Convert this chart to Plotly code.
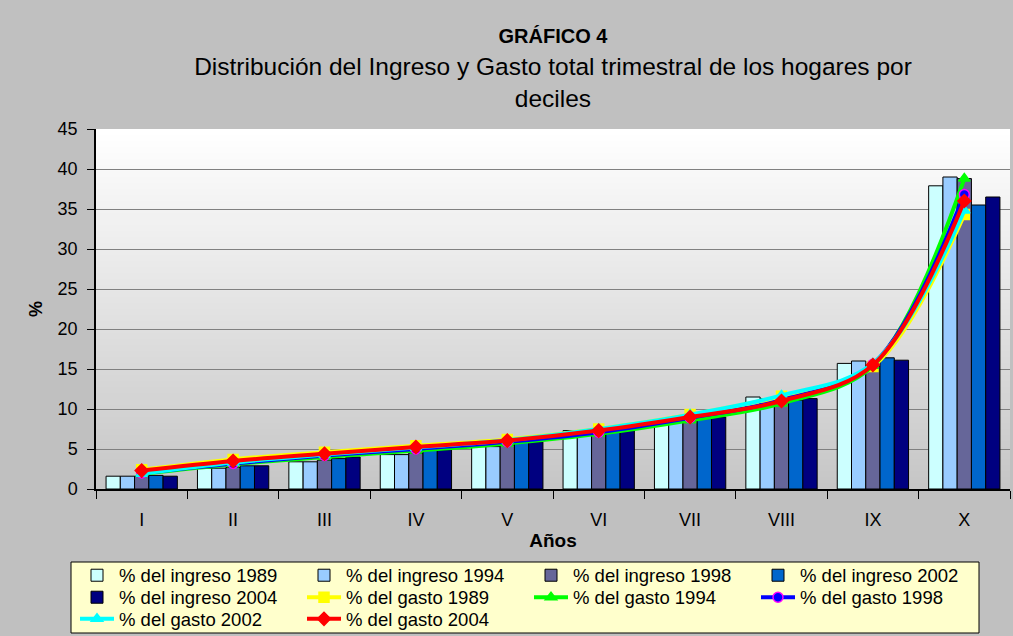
import plotly.graph_objects as go

deciles = ["I", "II", "III", "IV", "V", "VI", "VII", "VIII", "IX", "X"]

ingreso_1989 = [1.6, 2.6, 3.4, 4.3, 5.3, 7.3, 8.6, 11.5, 15.7, 37.9]
ingreso_1994 = [1.6, 2.6, 3.4, 4.3, 5.3, 7.2, 8.7, 11.3, 16.0, 39.0]
ingreso_1998 = [1.6, 2.7, 3.6, 4.5, 5.5, 7.0, 8.6, 11.0, 15.4, 38.8]
ingreso_2002 = [1.7, 2.9, 3.8, 4.9, 5.9, 7.3, 8.8, 11.1, 16.4, 35.5]
ingreso_2004 = [1.6, 2.9, 4.0, 4.9, 5.9, 7.3, 9.0, 11.3, 16.1, 36.5]

gasto_1989 = [2.4, 3.7, 4.6, 5.4, 6.2, 7.5, 9.3, 11.6, 15.3, 34.3]
gasto_1994 = [1.9, 3.1, 4.0, 4.8, 5.7, 6.9, 8.6, 10.7, 15.4, 38.8]
gasto_1998 = [2.0, 3.2, 4.2, 5.0, 5.9, 7.1, 8.9, 11.1, 15.6, 36.8]
gasto_2002 = [1.9, 3.3, 4.3, 5.2, 6.1, 7.5, 9.3, 11.7, 15.7, 34.8]
gasto_2004 = [2.3, 3.5, 4.4, 5.25, 6.05, 7.3, 9.0, 11.0, 15.5, 36.0]

y_ticks = [0, 5, 10, 15, 20, 25, 30, 35, 40, 45]

FONT = "Liberation Sans, Arial, sans-serif"

# plot area in pixels
L, R, T, B = 96, 3, 129, 147
W, H = 1013, 636
PW, PH = W - L - R, H - T - B


def px_x(x):
    return (x - L) / PW


def px_y(y):
    return (H - B - y) / PH


fig = go.Figure()

bar_series = [
    ("% del ingreso 1989", ingreso_1989, "#CCFFFF", "legend"),
    ("% del ingreso 1994", ingreso_1994, "#99CCFF", "legend"),
    ("% del ingreso 1998", ingreso_1998, "#666699", "legend"),
    ("% del ingreso 2002", ingreso_2002, "#0066CC", "legend"),
    ("% del ingreso 2004", ingreso_2004, "#000080", "legend2"),
]
for name, vals, col, lg in bar_series:
    fig.add_trace(go.Bar(
        x=deciles, y=vals, name=name, legend=lg,
        marker=dict(color=col, line=dict(color="#000000", width=1)),
    ))

line_series = [
    ("% del gasto 1989", gasto_1989, "#FFFF00", "square", "#FFFF00", "legend2"),
    ("% del gasto 1994", gasto_1994, "#00FF00", "triangle-up", "#00FF00", "legend2"),
    ("% del gasto 1998", gasto_1998, "#0000FF", "circle", "#FF00FF", "legend2"),
    ("% del gasto 2002", gasto_2002, "#00FFFF", "triangle-up", "#00FFFF", "legend3"),
    ("% del gasto 2004", gasto_2004, "#FF0000", "diamond", "#FF0000", "legend3"),
]
for name, vals, col, sym, mline, lg in line_series:
    fig.add_trace(go.Scatter(
        x=deciles, y=vals, name=name, mode="lines+markers", legend=lg,
        line=dict(color=col, width=4, shape="spline", smoothing=1.0),
        marker=dict(symbol=sym, size=10, color=col, line=dict(color=mline, width=1.5)),
    ))

# vertical gradient background for the plot area
n_bands = 60
shapes = []
for i in range(n_bands):
    t = i / (n_bands - 1)
    v = int(round(255 - t * (255 - 198)))
    shapes.append(dict(
        type="rect", xref="x domain", yref="y domain",
        x0=0, x1=1, y0=1 - (i + 1) / n_bands, y1=1 - i / n_bands,
        fillcolor=f"rgb({v},{v},{v})", line=dict(width=0), layer="below",
    ))

# legend box
shapes.append(dict(
    type="rect", xref="paper", yref="paper",
    x0=px_x(71), x1=px_x(979), y0=px_y(633), y1=px_y(562),
    fillcolor="#FFFFCC", line=dict(color="#000000", width=1), layer="below",
))

legend_common = dict(
    orientation="h", xanchor="left", yanchor="middle",
    bgcolor="rgba(0,0,0,0)", borderwidth=0,
    entrywidth=178, entrywidthmode="pixels", traceorder="normal",
    font=dict(family=FONT, size=18.5, color="#000000"), itemwidth=34,
)
leg_x = px_x(75)

fig.update_layout(
    width=W, height=H,
    paper_bgcolor="#C0C0C0",
    plot_bgcolor="rgba(0,0,0,0)",
    margin=dict(l=L, r=R, t=T, b=B, autoexpand=False, pad=0),
    barmode="group", bargap=0.22, bargroupgap=0,
    font=dict(family=FONT, color="#000000", size=18),
    title=dict(
        text="<b><span style='font-size:20px'>GRÁFICO 4</span></b><br>Distribución del Ingreso y Gasto total trimestral de los hogares por<br>deciles",
        x=0.5, xanchor="center", xref="paper", y=0.932, yanchor="top",
        font=dict(family=FONT, size=24.5, color="#000000"),
    ),
    xaxis=dict(
        range=[-0.5, len(deciles) - 0.5],
        showline=True, linecolor="#000000", linewidth=1.5,
        ticks="outside", ticklen=8, tickcolor="#000000", tickson="boundaries",
        tickfont=dict(size=18), showgrid=False, ticklabelstandoff=14,
        title=dict(text="<b>Años</b>", font=dict(size=19), standoff=4),
    ),
    yaxis=dict(
        range=[0, 45], tickvals=y_ticks, showline=True, linecolor="#000000", linewidth=1.5,
        ticks="outside", ticklen=7, tickcolor="#000000",
        tickfont=dict(size=18), showgrid=True, gridcolor="#808080", gridwidth=1,
        zeroline=False, ticklabelstandoff=6,
        title=dict(text="<b>%</b>", font=dict(size=18), standoff=10),
    ),
    legend=dict(x=leg_x, y=px_y(575.7), **legend_common),
    legend2=dict(x=leg_x, y=px_y(597.7), **legend_common),
    legend3=dict(x=leg_x, y=px_y(619.3), **legend_common),
    shapes=shapes,
    showlegend=True,
)

fig.write_html(
    "out.html",
    config={"displayModeBar": False},
    post_script="document.body.style.margin='0px';document.body.style.background='#C0C0C0';",
)
